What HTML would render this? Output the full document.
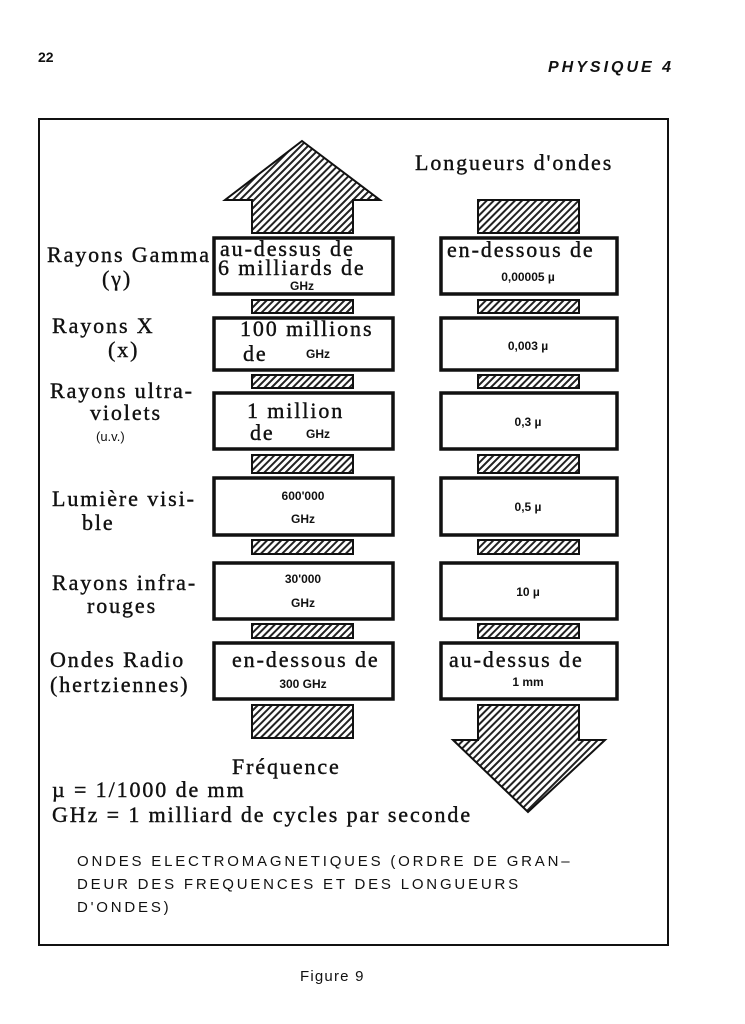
<!DOCTYPE html>
<html><head><meta charset="utf-8"><style>
body{margin:0;background:#fff;}
svg{display:block}
.s{font-family:"Liberation Serif",serif;fill:#111;font-size:22px;letter-spacing:1.9px;stroke:#111;stroke-width:0.4}
.a{font-family:"Liberation Sans",sans-serif;fill:#111}
</style></head><body>
<svg width="745" height="1024" viewBox="0 0 745 1024" xmlns="http://www.w3.org/2000/svg">
<defs>
<pattern id="h" width="5" height="5" patternUnits="userSpaceOnUse" patternTransform="rotate(45)">
<rect width="5" height="5" fill="#fff"/><rect width="2" height="5" fill="#222"/>
</pattern>
</defs>
<text x="38" y="62" class="a" font-size="14" font-weight="bold">22</text>
<text x="548" y="72" class="a" font-size="16" font-weight="bold" font-style="italic" letter-spacing="3">PHYSIQUE  4</text>
<rect x="39" y="119" width="629" height="826" fill="none" stroke="#111" stroke-width="2"/>

<polygon points="302,141 380,200 353,200 353,233 252,233 252,200 225,200" fill="url(#h)" stroke="#111" stroke-width="2"/>
<text x="415" y="170" class="s">Longueurs d'ondes</text>
<rect x="478" y="200" width="101" height="33" fill="url(#h)" stroke="#111" stroke-width="2"/>

<g fill="url(#h)" stroke="#111" stroke-width="2">
<rect x="252" y="300" width="101" height="13"/><rect x="478" y="300" width="101" height="13"/>
<rect x="252" y="375" width="101" height="13"/><rect x="478" y="375" width="101" height="13"/>
<rect x="252" y="455" width="101" height="18"/><rect x="478" y="455" width="101" height="18"/>
<rect x="252" y="540" width="101" height="14"/><rect x="478" y="540" width="101" height="14"/>
<rect x="252" y="624" width="101" height="14"/><rect x="478" y="624" width="101" height="14"/>
<rect x="252" y="705" width="101" height="33"/>
</g>
<polygon points="478,705 579,705 579,740 605,740 528,812 453,740 478,740" fill="url(#h)" stroke="#111" stroke-width="2"/>

<g fill="#fff" stroke="#111" stroke-width="3.5">
<rect x="214" y="238" width="179" height="56"/><rect x="441" y="238" width="176" height="56"/>
<rect x="214" y="318" width="179" height="52"/><rect x="441" y="318" width="176" height="52"/>
<rect x="214" y="393" width="179" height="56"/><rect x="441" y="393" width="176" height="56"/>
<rect x="214" y="478" width="179" height="57"/><rect x="441" y="478" width="176" height="57"/>
<rect x="214" y="563" width="179" height="56"/><rect x="441" y="563" width="176" height="56"/>
<rect x="214" y="643" width="179" height="56"/><rect x="441" y="643" width="176" height="56"/>
</g>

<g class="s">
<text x="220" y="256">au-dessus de</text>
<text x="218" y="275">6 milliards de</text>
<text x="240" y="336">100 millions</text>
<text x="243" y="361">de</text>
<text x="247" y="418">1 million</text>
<text x="250" y="440">de</text>
<text x="232" y="667">en-dessous de</text>
<text x="447" y="257">en-dessous de</text>
<text x="449" y="667">au-dessus de</text>
</g>
<g class="a" font-size="12" font-weight="bold" text-anchor="middle">
<text x="302" y="290">GHz</text>
<text x="318" y="358">GHz</text>
<text x="318" y="438">GHz</text>
<text x="303" y="500">600'000</text>
<text x="303" y="523">GHz</text>
<text x="303" y="583">30'000</text>
<text x="303" y="607">GHz</text>
<text x="303" y="688">300 GHz</text>
<text x="528" y="281">0,00005 µ</text>
<text x="528" y="350">0,003 µ</text>
<text x="528" y="426">0,3 µ</text>
<text x="528" y="511">0,5 µ</text>
<text x="528" y="596">10 µ</text>
<text x="528" y="686">1 mm</text>
</g>

<g class="s">
<text x="47" y="262">Rayons Gamma</text>
<text x="102" y="286">(γ)</text>
<text x="52" y="333">Rayons X</text>
<text x="108" y="357">(x)</text>
<text x="50" y="398">Rayons ultra-</text>
<text x="90" y="420">violets</text>
<text x="52" y="506">Lumière visi-</text>
<text x="82" y="530">ble</text>
<text x="52" y="590">Rayons infra-</text>
<text x="87" y="613">rouges</text>
<text x="50" y="667">Ondes Radio</text>
<text x="50" y="692">(hertziennes)</text>
<text x="232" y="774">Fréquence</text>
<text x="52" y="797">µ = 1/1000 de mm</text>
<text x="52" y="822">GHz = 1 milliard de cycles par seconde</text>
</g>
<text x="96" y="441" class="a" font-size="13">(u.v.)</text>
<g class="a" font-size="15" letter-spacing="2.8">
<text x="77" y="866">ONDES ELECTROMAGNETIQUES (ORDRE DE GRAN–</text>
<text x="77" y="889">DEUR DES FREQUENCES ET DES LONGUEURS</text>
<text x="77" y="912">D'ONDES)</text>
</g>
<text x="300" y="981" class="a" font-size="15" letter-spacing="1.2">Figure 9</text>
</svg>
</body></html>
